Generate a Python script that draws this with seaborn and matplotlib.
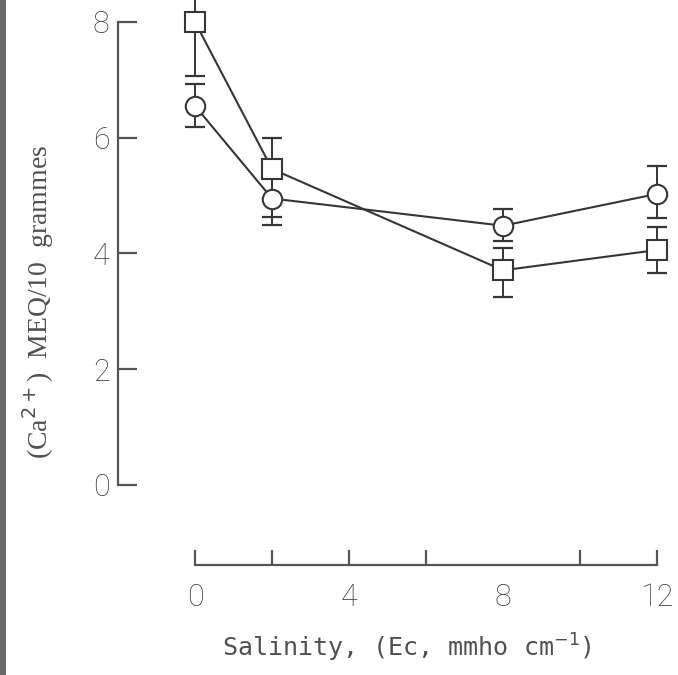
import matplotlib
matplotlib.use("Agg")
import matplotlib.pyplot as plt
from matplotlib.patches import Rectangle
import seaborn as sns
import pandas as pd

# Salinity levels (Ec, mmho cm-1)
salinity = [0, 2, 8, 12]

# Ca2+ content, circles series
circle_mean = [6.55, 4.95, 4.48, 5.03]
circle_err_lo = [0.37, 0.45, 0.27, 0.42]
circle_err_hi = [0.37, 0.45, 0.29, 0.48]

# Ca2+ content, squares series
square_mean = [8.0, 5.46, 3.71, 4.06]
square_err_lo = [0.93, 0.83, 0.46, 0.40]
square_err_hi = [0.93, 0.53, 0.38, 0.40]

x_ticks = [0, 2, 4, 6, 8, 10, 12]
x_ticklabels = ["0", "", "4", "", "8", "", "12"]
y_ticks = [0, 2, 4, 6, 8]

sns.set_theme(style="white")

df = pd.concat([
    pd.DataFrame({"salinity": salinity, "ca": circle_mean, "series": "circle"}),
    pd.DataFrame({"salinity": salinity, "ca": square_mean, "series": "square"}),
])

ink = "#363636"
axis_col = "#555555"
text_col = "#505050"

fig = plt.figure(figsize=(6.78, 6.75), dpi=100)
ax = fig.add_axes([0, 0, 1, 1])
ax.set_facecolor("white")

# error bars first so the open markers sit on top
for mean, lo, hi in [(circle_mean, circle_err_lo, circle_err_hi),
                     (square_mean, square_err_lo, square_err_hi)]:
    ax.errorbar(salinity, mean, yerr=[lo, hi], fmt="none", ecolor=ink,
                elinewidth=1.4, capsize=7.5, capthick=1.6, zorder=2)

sns.lineplot(data=df, x="salinity", y="ca", hue="series", style="series",
             markers={"circle": "o", "square": "s"}, dashes=False,
             palette={"circle": ink, "square": ink}, markersize=14,
             markerfacecolor="white", markeredgecolor=ink, markeredgewidth=1.5,
             linewidth=1.5, legend=False, ax=ax, zorder=3)

ax.set_xlim(-5.065, 12.545)
ax.set_ylim(-3.283, 8.38)

for side in ["top", "right"]:
    ax.spines[side].set_visible(False)
ax.spines["left"].set_position(("data", -2.0))
ax.spines["left"].set_bounds(0, 8)
ax.spines["bottom"].set_position(("data", -1.38))
ax.spines["bottom"].set_bounds(0, 12)
for side in ["left", "bottom"]:
    ax.spines[side].set_color(axis_col)
    ax.spines[side].set_linewidth(1.6)

ax.set_xticks(x_ticks)
ax.set_xticklabels(x_ticklabels)
ax.set_yticks(y_ticks)
ax.set_yticklabels([str(v) for v in y_ticks])
ax.tick_params(axis="x", bottom=True, direction="in", length=11, width=1.6,
               color=axis_col, pad=13, labelsize=22, labelcolor="#404040")
ax.tick_params(axis="y", left=True, direction="in", length=13.5, width=1.6,
               color=axis_col, pad=6, labelsize=22, labelcolor="#404040")
ax.xaxis.get_major_ticks()[4].tick1line.set_visible(False)
for lab in ax.get_xticklabels() + ax.get_yticklabels():
    lab.set_fontfamily("Roboto")
    lab.set_fontweight("light")

ax.set_xlabel(r"Salinity, (Ec, mmho cm$^{-1}$)", family="DejaVu Sans Mono",
              fontsize=18, color=text_col)
ax.xaxis.set_label_coords(0.600, 0.064)
ax.set_ylabel(r"(Ca$^{2+}$)  MEQ/10  grammes", family="Liberation Serif",
              fontsize=20, color=text_col)
ax.yaxis.set_label_coords(0.083, 0.553)

# dark border strip along the left edge of the page
fig.add_artist(Rectangle((0, 0), 6 / 678, 1, transform=fig.transFigure,
                         color="#6a6a6a", lw=0))

fig.savefig("out.png", dpi=100)
